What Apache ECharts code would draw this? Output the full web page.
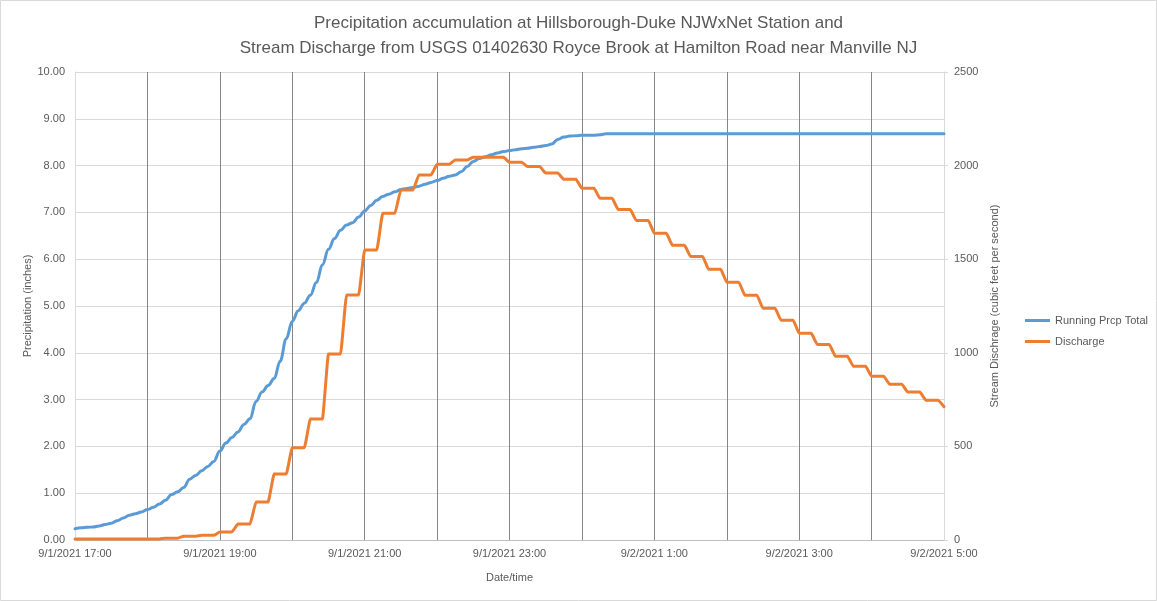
<!DOCTYPE html>
<html><head><meta charset="utf-8">
<script src="https://cdn.jsdelivr.net/npm/echarts/dist/echarts.min.js"></script>
<style>html,body{margin:0;padding:0;background:#fff}#c{width:1157px;height:601px}</style>
</head><body><div id="c"></div>
<script>
const categories = [
"9/1/2021 17:00","9/1/2021 17:05","9/1/2021 17:10","9/1/2021 17:15","9/1/2021 17:20","9/1/2021 17:25","9/1/2021 17:30","9/1/2021 17:35","9/1/2021 17:40","9/1/2021 17:45","9/1/2021 17:50","9/1/2021 17:55",
"9/1/2021 18:00","9/1/2021 18:05","9/1/2021 18:10","9/1/2021 18:15","9/1/2021 18:20","9/1/2021 18:25","9/1/2021 18:30","9/1/2021 18:35","9/1/2021 18:40","9/1/2021 18:45","9/1/2021 18:50","9/1/2021 18:55",
"9/1/2021 19:00","9/1/2021 19:05","9/1/2021 19:10","9/1/2021 19:15","9/1/2021 19:20","9/1/2021 19:25","9/1/2021 19:30","9/1/2021 19:35","9/1/2021 19:40","9/1/2021 19:45","9/1/2021 19:50","9/1/2021 19:55",
"9/1/2021 20:00","9/1/2021 20:05","9/1/2021 20:10","9/1/2021 20:15","9/1/2021 20:20","9/1/2021 20:25","9/1/2021 20:30","9/1/2021 20:35","9/1/2021 20:40","9/1/2021 20:45","9/1/2021 20:50","9/1/2021 20:55",
"9/1/2021 21:00","9/1/2021 21:05","9/1/2021 21:10","9/1/2021 21:15","9/1/2021 21:20","9/1/2021 21:25","9/1/2021 21:30","9/1/2021 21:35","9/1/2021 21:40","9/1/2021 21:45","9/1/2021 21:50","9/1/2021 21:55",
"9/1/2021 22:00","9/1/2021 22:05","9/1/2021 22:10","9/1/2021 22:15","9/1/2021 22:20","9/1/2021 22:25","9/1/2021 22:30","9/1/2021 22:35","9/1/2021 22:40","9/1/2021 22:45","9/1/2021 22:50","9/1/2021 22:55",
"9/1/2021 23:00","9/1/2021 23:05","9/1/2021 23:10","9/1/2021 23:15","9/1/2021 23:20","9/1/2021 23:25","9/1/2021 23:30","9/1/2021 23:35","9/1/2021 23:40","9/1/2021 23:45","9/1/2021 23:50","9/1/2021 23:55",
"9/2/2021 0:00","9/2/2021 0:05","9/2/2021 0:10","9/2/2021 0:15","9/2/2021 0:20","9/2/2021 0:25","9/2/2021 0:30","9/2/2021 0:35","9/2/2021 0:40","9/2/2021 0:45","9/2/2021 0:50","9/2/2021 0:55",
"9/2/2021 1:00","9/2/2021 1:05","9/2/2021 1:10","9/2/2021 1:15","9/2/2021 1:20","9/2/2021 1:25","9/2/2021 1:30","9/2/2021 1:35","9/2/2021 1:40","9/2/2021 1:45","9/2/2021 1:50","9/2/2021 1:55",
"9/2/2021 2:00","9/2/2021 2:05","9/2/2021 2:10","9/2/2021 2:15","9/2/2021 2:20","9/2/2021 2:25","9/2/2021 2:30","9/2/2021 2:35","9/2/2021 2:40","9/2/2021 2:45","9/2/2021 2:50","9/2/2021 2:55",
"9/2/2021 3:00","9/2/2021 3:05","9/2/2021 3:10","9/2/2021 3:15","9/2/2021 3:20","9/2/2021 3:25","9/2/2021 3:30","9/2/2021 3:35","9/2/2021 3:40","9/2/2021 3:45","9/2/2021 3:50","9/2/2021 3:55",
"9/2/2021 4:00","9/2/2021 4:05","9/2/2021 4:10","9/2/2021 4:15","9/2/2021 4:20","9/2/2021 4:25","9/2/2021 4:30","9/2/2021 4:35","9/2/2021 4:40","9/2/2021 4:45","9/2/2021 4:50","9/2/2021 4:55",
"9/2/2021 5:00"
];
const precipTotal = [
0.24,0.26,0.27,0.28,0.30,0.33,0.36,0.41,0.47,0.53,0.56,0.60,
0.65,0.70,0.77,0.85,0.97,1.03,1.12,1.30,1.38,1.48,1.57,1.68,
1.90,2.07,2.19,2.31,2.47,2.59,2.96,3.16,3.30,3.45,3.82,4.30,
4.67,4.90,5.06,5.23,5.50,5.88,6.21,6.44,6.62,6.73,6.78,6.90,
7.03,7.15,7.26,7.34,7.39,7.44,7.49,7.51,7.53,7.56,7.60,7.64,
7.68,7.73,7.77,7.80,7.87,7.98,8.09,8.15,8.19,8.23,8.27,8.30,
8.32,8.34,8.36,8.37,8.39,8.41,8.43,8.46,8.56,8.61,8.63,8.64,
8.65,8.65,8.65,8.66,8.68,8.68,8.68,8.68,8.68,8.68,8.68,8.68,
8.68,8.68,8.68,8.68,8.68,8.68,8.68,8.68,8.68,8.68,8.68,8.68,
8.68,8.68,8.68,8.68,8.68,8.68,8.68,8.68,8.68,8.68,8.68,8.68,
8.68,8.68,8.68,8.68,8.68,8.68,8.68,8.68,8.68,8.68,8.68,8.68,
8.68,8.68,8.68,8.68,8.68,8.68,8.68,8.68,8.68,8.68,8.68,8.68,
8.68
];
const discharge = [
5,5,5,5,5,5,5,5,5,5,5,5,
5,5,5,10,10,10,20,20,20,25,25,25,
43,43,43,85,85,85,203,203,203,352,352,352,
493,493,493,646,646,646,994,994,994,1309,1309,1309,
1549,1549,1549,1745,1745,1745,1870,1870,1870,1950,1950,1950,
2007,2007,2007,2030,2030,2030,2044,2044,2044,2044,2044,2044,
2018,2018,2018,1995,1995,1995,1960,1960,1960,1927,1927,1927,
1879,1879,1879,1825,1825,1825,1766,1766,1766,1707,1707,1707,
1638,1638,1638,1574,1574,1574,1515,1515,1515,1446,1446,1446,
1377,1377,1377,1308,1308,1308,1238,1238,1238,1174,1174,1174,
1104,1104,1104,1045,1045,1045,981,981,981,928,928,928,
875,875,875,832,832,832,790,790,790,747,747,747,
712
];
const leftTicks = {min:0, max:10, interval:1};
const rightTicks = {min:0, max:2500, interval:500};

const FONT = '"Liberation Sans", Arial, sans-serif';
const TXT = '#595959';
const chart = echarts.init(document.getElementById('c'), null, {renderer:'canvas'});
chart.setOption({
  animation:false,
  backgroundColor:'#ffffff',
  textStyle:{fontFamily:FONT},
  title:{
    text:'Precipitation accumulation at Hillsborough-Duke NJWxNet Station and\nStream Discharge from USGS 01402630 Royce Brook at Hamilton Road near Manville NJ',
    left:'center', top:6,
    textStyle:{fontFamily:FONT, fontSize:17, fontWeight:'normal', color:TXT, lineHeight:25}
  },
  grid:{left:75, right:213, top:72, bottom:61, containLabel:false},
  legend:{
    orient:'vertical', left:1020, top:310, itemWidth:25, itemHeight:3, itemGap:10, icon:'rect',
    textStyle:{fontFamily:FONT, fontSize:11, color:TXT},
    data:['Running Prcp Total','Discharge']
  },
  graphic:[{type:'rect', shape:{x:0.5,y:0.5,width:1156,height:600}, style:{fill:null, stroke:'#d9d9d9', lineWidth:1}, silent:true}],
  xAxis:{
    type:'category', boundaryGap:false, data:categories,
    name:'Date/time', nameLocation:'middle', nameGap:32, nameMoveOverlap:false,
    nameTextStyle:{fontFamily:FONT, fontSize:11, color:TXT},
    axisLine:{show:true, lineStyle:{color:'#bfbfbf', width:1}},
    axisTick:{show:false},
    axisLabel:{interval:23, color:TXT, fontSize:11, fontFamily:FONT, margin:8},
    splitLine:{show:true, interval:function(i){return i%12===0 && i>0 && i<144;}, lineStyle:{color:'#868686', width:1}}
  },
  yAxis:[{
    type:'value', min:leftTicks.min, max:leftTicks.max, interval:leftTicks.interval,
    name:'Precipitation (inches)', nameLocation:'middle', nameGap:42, nameRotate:90, nameMoveOverlap:false,
    nameTextStyle:{fontFamily:FONT, fontSize:11, color:TXT},
    axisLine:{show:true, lineStyle:{color:'#d9d9d9'}},
    axisTick:{show:false},
    axisLabel:{color:TXT, fontSize:11, fontFamily:FONT, margin:10, formatter:function(v){return v.toFixed(2);}},
    splitLine:{show:true, lineStyle:{color:'#d9d9d9', width:1}}
  },{
    type:'value', position:'right', min:rightTicks.min, max:rightTicks.max, interval:rightTicks.interval,
    name:'Stream Dischrage (cubic feet per second)', nameLocation:'middle', nameGap:45, nameRotate:90, nameMoveOverlap:false,
    nameTextStyle:{fontFamily:FONT, fontSize:11, color:TXT},
    axisLine:{show:true, lineStyle:{color:'#d9d9d9'}},
    axisTick:{show:true, length:4, lineStyle:{color:'#d9d9d9'}},
    axisLabel:{color:TXT, fontSize:11, fontFamily:FONT, margin:10, formatter:function(v){return String(v);}},
    splitLine:{show:false}
  }],
  series:[{
    name:'Running Prcp Total', type:'line', yAxisIndex:0, data:precipTotal,
    symbol:'none', smooth:0.4, smoothMonotone:'x',
    lineStyle:{color:'#5B9BD5', width:3, cap:'round', join:'round'},
    itemStyle:{color:'#5B9BD5'}
  },{
    name:'Discharge', type:'line', yAxisIndex:1, data:discharge,
    symbol:'none', smooth:0.15, smoothMonotone:'x',
    lineStyle:{color:'#ED7D31', width:3, cap:'round', join:'round'},
    itemStyle:{color:'#ED7D31'}
  }]
});
</script></body></html>
